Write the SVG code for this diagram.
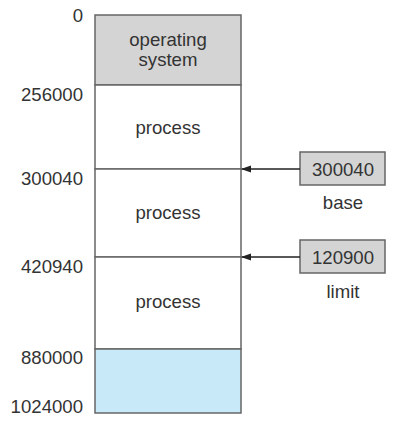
<svg xmlns="http://www.w3.org/2000/svg" width="406" height="440" viewBox="0 0 406 440">
<defs>
<style>
text{font-family:"Liberation Sans",Arial,sans-serif;font-size:18.6px;fill:#333}
.addr{text-anchor:end}
.c{text-anchor:middle}
.seg{stroke:#666;stroke-width:1.5}
.conn{stroke:#222;stroke-width:1.6;fill:none}
</style>
<marker id="ah" markerWidth="10" markerHeight="8" refX="9" refY="4" orient="auto" markerUnits="userSpaceOnUse">
<path d="M0,0.5 L10,4 L0,7.5 Z" fill="#222"/>
</marker>
</defs>
<rect width="406" height="440" fill="#fff"/>
<g id="memory">
<g id="os"><rect class="seg" x="95" y="15" width="146" height="70" fill="#d4d4d4"/><text class="c" x="168" y="46">operating</text><text class="c" x="168" y="66">system</text></g>
<g id="p1"><rect class="seg" x="95" y="85" width="146" height="84" fill="#fff"/><text class="c" x="168" y="134">process</text></g>
<g id="p2"><rect class="seg" x="95" y="169" width="146" height="88" fill="#fff"/><text class="c" x="168" y="219">process</text></g>
<g id="p3"><rect class="seg" x="95" y="257" width="146" height="92" fill="#fff"/><text class="c" x="168" y="308">process</text></g>
<g id="free"><rect class="seg" x="95" y="349" width="146" height="64" fill="#c8e9f8"/></g>
</g>
<g id="addresses">
<text class="addr" x="83" y="22">0</text>
<text class="addr" x="83" y="101">256000</text>
<text class="addr" x="83" y="185">300040</text>
<text class="addr" x="83" y="273">420940</text>
<text class="addr" x="83" y="364">880000</text>
<text class="addr" x="83" y="413">1024000</text>
</g>
<g id="base"><rect class="seg" x="300" y="152" width="85" height="33" fill="#d4d4d4"/><text class="c" x="343" y="176">300040</text><text class="c" x="343" y="209">base</text></g>
<g id="limit"><rect class="seg" x="300" y="240" width="85" height="33" fill="#d4d4d4"/><text class="c" x="343" y="264">120900</text><text class="c" x="343" y="298">limit</text></g>
<g id="connectors">
<line class="conn" x1="300" y1="169" x2="242" y2="169" marker-end="url(#ah)"/>
<line class="conn" x1="300" y1="257" x2="242" y2="257" marker-end="url(#ah)"/>
</g>
</svg>
